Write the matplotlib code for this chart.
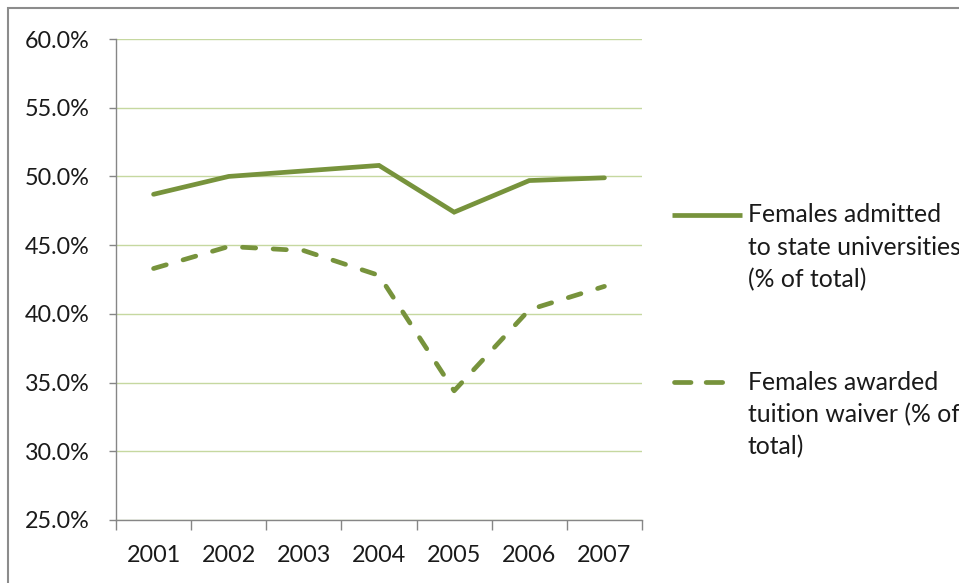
import numpy as np
import matplotlib.pyplot as plt
from matplotlib.lines import Line2D
from matplotlib.patches import Rectangle

plt.rcParams['font.family'] = ['Lato', 'DejaVu Sans']

years = ['2001', '2002', '2003', '2004', '2005', '2006', '2007']
admitted = [48.7, 50.0, 50.4, 50.8, 47.4, 49.7, 49.9]
waiver = [43.3, 44.9, 44.6, 42.8, 34.4, 40.3, 42.0]
y_ticks = [25, 30, 35, 40, 45, 50, 55, 60]

green = '#77933c'
grid_green = '#c6d8a0'
axis_gray = '#868686'
text_col = '#1a1a1a'

fig = plt.figure(figsize=(9.59, 5.83), dpi=100)
ax = fig.add_axes([116 / 959, 1 - 520 / 583, (642 - 116) / 959, (520 - 39) / 583])

x = np.arange(len(years))
ax.plot(x, admitted, color=green, lw=3.4, solid_capstyle='round', solid_joinstyle='miter')
ax.plot(x, waiver, color=green, lw=3.4, dashes=(2.8, 3.7), dash_capstyle='round')

ax.set_xlim(-0.5, len(years) - 0.5)
ax.set_ylim(25, 60)
ax.set_yticks(y_ticks)
ax.set_yticklabels([f'{v:.1f}%' for v in y_ticks])
ax.set_xticks(x)
ax.set_xticklabels(years)
ax.set_xticks(np.arange(len(years) + 1) - 0.5, minor=True)

ax.grid(axis='y', color=grid_green, lw=1)
ax.set_axisbelow(True)
for s in ['top', 'right']:
    ax.spines[s].set_visible(False)
for s in ['left', 'bottom']:
    ax.spines[s].set_color(axis_gray)
    ax.spines[s].set_linewidth(1)

ax.tick_params(axis='y', length=5, width=1, color=axis_gray, pad=14, labelsize=16.8, labelcolor=text_col)
ax.tick_params(axis='x', which='major', length=0, pad=18, labelsize=16.8, labelcolor=text_col)
ax.tick_params(axis='x', which='minor', length=7, width=1, color=axis_gray)

# legend drawn by hand so the handle sits on the first text line
def px(xp, yp):
    return xp / 959, 1 - yp / 583

leg_font = dict(fontsize=17.8, color=text_col, va='center', ha='left')
x0, y0 = px(672, 215)
x1, _ = px(742, 215)
fig.add_artist(Line2D([x0, x1], [y0, y0], color=green, lw=3.4, solid_capstyle='butt'))
for i, line in enumerate(['Females admitted', 'to state universities', '(% of total)']):
    fig.text(*px(748, 215 + 32.5 * i), line, **leg_font)

x0, y0 = px(674, 382)
x1, _ = px(731, 382)
fig.add_artist(Line2D([x0, x1], [y0, y0], color=green, lw=3.4, dashes=(3.5, 3.2), dash_capstyle='round'))
for i, line in enumerate(['Females awarded', 'tuition waiver (% of', 'total)']):
    fig.text(*px(748, 382 + 32.5 * i), line, **leg_font)

# outer chart border
fig.add_artist(Rectangle(px(8, 600), 1.2, (600 - 8) / 583, transform=fig.transFigure,
                         fill=False, edgecolor='#8c8c8c', lw=1.5))

fig.savefig('out.png', dpi=100)
